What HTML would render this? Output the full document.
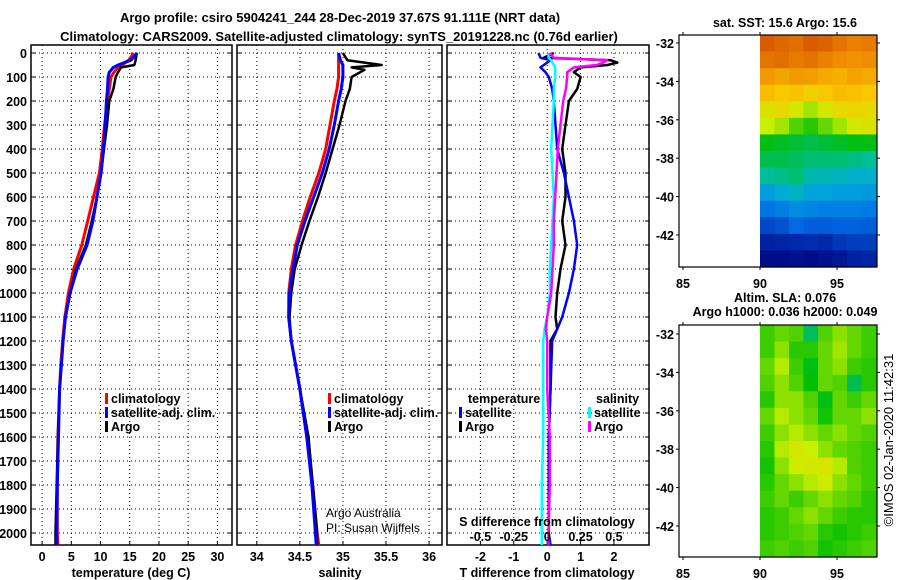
<!DOCTYPE html>
<html><head><meta charset="utf-8"><style>
body{margin:0;background:#fff;}
svg{display:block;font-family:"Liberation Sans",sans-serif;}
.b{font-weight:bold;font-size:13px;}
.t{font-weight:bold;font-size:12.5px;}
</style></head><body>
<svg id="c" width="900" height="580" viewBox="0 0 900 580">
<text x="340" y="22" text-anchor="middle" class="b" font-size="14">Argo profile: csiro 5904241_244 28-Dec-2019 37.67S 91.111E (NRT data)</text>
<text x="339" y="41" text-anchor="middle" class="b" font-size="14">Climatology: CARS2009. Satellite-adjusted climatology: synTS_20191228.nc (0.76d earlier)</text>
<g id="g"></g>
</svg>
<script>
// ---- data ----
const depthTicks=[0,100,200,300,400,500,600,700,800,900,1000,1100,1200,1300,1400,1500,1600,1700,1800,1900,2000];
const tempTicks=[0,5,10,15,20,25,30];
const salTicks=[34,34.5,35,35.5,36];
const salTickLabels=["34","34.5","35","35.5","36"];
const tdTicks=[-2,-1,0,1,2];
const sdTicks=[-0.5,-0.25,0,0.25,0.5];
const sdTickLabels=["-0.5","-0.25","0","0.25","0.5"];

const tDepth=[0,30,50,60,80,100,150,200,300,400,500,600,700,800,900,1000,1100,1200,1300,1400,1600,1800,2000,2050];
const tArgo=[16.2,16.0,15.8,13.5,13.0,12.6,12.2,11.5,11.1,10.6,10.1,9.4,8.5,7.5,5.8,4.8,4.0,3.6,3.3,3.0,2.7,2.5,2.3,2.3];
const tClim=[15.7,14.8,13.7,13.0,12.3,11.8,11.5,11.2,10.7,10.3,9.8,8.8,7.8,6.8,5.4,4.5,3.9,3.5,3.2,3.0,2.7,2.6,2.6,2.7];
const tSat=[16.3,15.2,13.0,12.2,11.5,11.3,11.2,11.0,10.8,10.5,10.1,9.4,8.7,7.7,6.0,4.8,4.0,3.6,3.3,3.0,2.8,2.6,2.5,2.5];

const sDepth=[0,30,50,60,70,100,150,200,300,400,500,600,700,800,900,1000,1100,1200,1300,1400,1600,1800,2000,2050];
const sArgo=[35.0,35.05,35.45,35.1,35.25,35.1,35.08,35.03,34.96,34.88,34.8,34.71,34.61,34.52,34.44,34.4,34.38,34.4,34.45,34.5,34.6,34.65,34.7,34.7];
const sClim=[34.95,34.95,34.95,34.95,34.95,34.95,34.93,34.9,34.85,34.8,34.72,34.62,34.53,34.45,34.4,34.37,34.37,34.4,34.45,34.5,34.58,34.65,34.7,34.72];
const sSat=[34.95,34.97,35.0,35.0,35.0,35.0,34.98,34.95,34.9,34.84,34.76,34.66,34.56,34.47,34.42,34.38,34.37,34.4,34.45,34.5,34.58,34.64,34.68,34.69];

const dDepth=[0,20,30,40,50,60,80,100,150,200,300,400,500,600,700,800,900,1000,1100,1150,1200,1400,1600,1800,2000,2050];
const dTArgo=[0.2,-0.1,1.9,2.1,1.8,1.0,0.8,1.0,0.9,0.65,0.55,0.45,0.55,0.55,0.45,0.55,0.4,0.3,0.25,0.3,0.1,0.1,0.05,0.05,0.05,0.05];
const dTSat=[-0.26,-0.2,0.1,0.0,-0.1,-0.2,-0.05,0.05,0.15,0.2,0.25,0.3,0.5,0.65,0.8,0.9,0.8,0.65,0.45,0.3,0.15,0.1,0.05,0.05,0.05,0.1];
const dSArgo=[0.02,0.05,0.45,0.42,0.37,0.2,0.15,0.15,0.14,0.12,0.1,0.08,0.07,0.06,0.05,0.05,0.04,0.03,0.0,-0.01,0.0,0.0,0.02,0.02,0.01,0.01];
const dSSat=[0.01,0.01,0.03,0.04,0.05,0.06,0.06,0.06,0.05,0.05,0.04,0.03,0.04,0.05,0.04,0.03,0.02,0.02,0.0,-0.02,-0.03,-0.03,-0.03,-0.04,-0.04,-0.04];

const latTicks=[-32,-34,-36,-38,-40,-42];
const lonTicks=[85,90,95];
const sstGrid=[
[0.88,0.86,0.85,0.88,0.87,0.84,0.82,0.83],
[0.84,0.85,0.83,0.84,0.82,0.80,0.79,0.80],
[0.78,0.76,0.78,0.77,0.75,0.74,0.76,0.75],
[0.72,0.70,0.71,0.68,0.70,0.72,0.71,0.70],
[0.64,0.66,0.62,0.58,0.62,0.66,0.67,0.66],
[0.60,0.58,0.54,0.52,0.55,0.58,0.62,0.64],
[0.49,0.48,0.47,0.46,0.47,0.48,0.49,0.49],
[0.46,0.46,0.45,0.44,0.44,0.44,0.43,0.42],
[0.42,0.43,0.44,0.40,0.39,0.38,0.37,0.37],
[0.33,0.36,0.38,0.34,0.34,0.33,0.33,0.32],
[0.26,0.28,0.30,0.29,0.28,0.28,0.28,0.27],
[0.18,0.20,0.24,0.22,0.22,0.23,0.23,0.22],
[0.10,0.11,0.12,0.13,0.12,0.15,0.16,0.16],
[0.04,0.04,0.05,0.04,0.05,0.07,0.10,0.11]];
const slaGrid=[
[0.53,0.55,0.54,0.45,0.54,0.57,0.55,0.53],
[0.53,0.57,0.52,0.52,0.55,0.58,0.55,0.53],
[0.55,0.59,0.53,0.49,0.55,0.57,0.53,0.52],
[0.54,0.57,0.54,0.50,0.55,0.54,0.46,0.52],
[0.52,0.57,0.57,0.54,0.49,0.55,0.53,0.55],
[0.55,0.59,0.57,0.55,0.51,0.55,0.55,0.57],
[0.53,0.57,0.59,0.57,0.55,0.57,0.55,0.54],
[0.52,0.59,0.62,0.60,0.57,0.55,0.54,0.53],
[0.51,0.57,0.61,0.62,0.63,0.59,0.54,0.53],
[0.52,0.55,0.57,0.59,0.61,0.57,0.55,0.53],
[0.53,0.55,0.53,0.55,0.57,0.55,0.54,0.52],
[0.52,0.53,0.55,0.57,0.55,0.53,0.52,0.52],
[0.52,0.53,0.54,0.55,0.52,0.51,0.52,0.53],
[0.53,0.54,0.53,0.54,0.51,0.52,0.53,0.54]];

// ---- drawing ----
const NS='http://www.w3.org/2000/svg';
const G=document.getElementById('g');
function el(t,a,p){const e=document.createElementNS(NS,t);for(const k in a)e.setAttribute(k,a[k]);(p||G).appendChild(e);return e;}
const Y0=53,YS=0.24,YB=545;
const yD=d=>Y0+d*YS;
const panels=[
 {x0:31,x1:232,lo:-1.9,hi:32.5,name:'temperature-panel'},
 {x0:237,x1:442,lo:33.77,hi:36.15,name:'salinity-panel'},
 {x0:447,x1:649,lo:-3.0,hi:3.05,name:'difference-panel'}];
const sx=(p,v)=>p.x0+(v-p.lo)/(p.hi-p.lo)*(p.x1-p.x0);

function frame(p,xt,xl,yl){
 const g=el('g',{});
 
 
 for(const d of depthTicks){
  el('line',{x1:p.x0,x2:p.x1,y1:yD(d),y2:yD(d),stroke:'#000','stroke-dasharray':'1,3','stroke-width':1},g);
  el('line',{x1:p.x0,x2:p.x0+4,y1:yD(d),y2:yD(d),stroke:'#000'},g);
  el('line',{x1:p.x1-4,x2:p.x1,y1:yD(d),y2:yD(d),stroke:'#000'},g);
  if(yl){const t=el('text',{x:27,y:yD(d)+5,'text-anchor':'end',class:'t'},g);t.textContent=d;
   
   }
 }
 xt.forEach((v,i)=>{const x=sx(p,v);
  el('line',{x1:x,x2:x,y1:Y0-8,y2:YB,stroke:'#000','stroke-dasharray':'1,3'},g);
  el('line',{x1:x,x2:x,y1:YB-4,y2:YB,stroke:'#000'},g);
  if(xl){const t=el('text',{x:x,y:561,'text-anchor':'middle',class:'t'},g);t.textContent=xl[i];
   
   }
 });
 el('rect',{x:p.x0,y:Y0-8,width:p.x1-p.x0,height:YB-Y0+8,fill:'none',stroke:'#000','stroke-width':1.5},g);
 return g;
}
function line(p,ds,vs,col,w,nm,k){
 k=k||1;
 const pts=ds.map((d,i)=>sx(p,vs[i]*k).toFixed(1)+','+yD(d).toFixed(1)).join(' ');
 const e=el('polyline',{points:pts,fill:'none',stroke:col,'stroke-width':w,'stroke-linejoin':'round'});
 
 
}
function txt(x,y,s,nm,o){const t=el('text',Object.assign({x:x,y:y,class:'t'},o||{}));t.textContent=s;
 
 return t;}
function leg(x,y,col,s,nm){const r=el('rect',{x:x,y:y-10,width:3,height:11,fill:col});
 
 
 txt(x+6,y,s,nm);}

frame(panels[0],tempTicks,tempTicks.map(String),true);
frame(panels[1],salTicks,salTickLabels,false);
frame(panels[2],tdTicks,tdTicks.map(String),false);

line(panels[0],tDepth,tClim,'#f00',3,'temp-climatology-line');
line(panels[0],tDepth,tArgo,'#000',2.5,'temp-argo-line');
line(panels[0],tDepth,tSat,'#00f',3,'temp-satellite-line');
line(panels[1],sDepth,sClim,'#f00',3,'sal-climatology-line');
line(panels[1],sDepth,sArgo,'#000',2.5,'sal-argo-line');
line(panels[1],sDepth,sSat,'#00f',3,'sal-satellite-line');
line(panels[2],dDepth,dTArgo,'#000',2.5,'tdiff-argo-line');
line(panels[2],dDepth,dTSat,'#00f',2.5,'tdiff-satellite-line');
line(panels[2],dDepth,dSSat,'#0ff',2.5,'sdiff-satellite-line',4);
line(panels[2],dDepth,dSArgo,'#f0f',2.5,'sdiff-argo-line',4);

txt(547,526,'S difference from climatology','s-diff-axis-title',{'text-anchor':'middle'});
sdTicks.forEach((v,i)=>txt(sx(panels[2],v*4),541,sdTickLabels[i],'s-tick-label',{'text-anchor':'middle'}));

txt(131,577,'temperature (deg C)','temp-axis-title',{'text-anchor':'middle'});
txt(340,577,'salinity','sal-axis-title',{'text-anchor':'middle'});
txt(547,577,'T difference from climatology','tdiff-axis-title',{'text-anchor':'middle'});

leg(105,403,'#f00','climatology','legend-temp-climatology');
leg(105,417,'#00f','satellite-adj. clim.','legend-temp-satellite');
leg(105,431,'#000','Argo','legend-temp-argo');
leg(328,403,'#f00','climatology','legend-sal-climatology');
leg(328,417,'#00f','satellite-adj. clim.','legend-sal-satellite');
leg(328,431,'#000','Argo','legend-sal-argo');
txt(468,403,'temperature','legend-temp-heading');
leg(459,417,'#00f','satellite','legend-tdiff-satellite');
leg(459,431,'#000','Argo','legend-tdiff-argo');
txt(596,403,'salinity','legend-sal-heading');
leg(588,417,'#0ff','satellite','legend-sdiff-satellite');
leg(588,431,'#f0f','Argo','legend-sdiff-argo');
txt(326,517,'Argo Australia','credit-line-1',{style:'font-weight:normal;font-size:12px'});
txt(326,532,'PI: Susan Wijffels','credit-line-2',{style:'font-weight:normal;font-size:12px'});

// ---- maps ----
const cmStops=[[0,0,0,120],[0.12,0,40,170],[0.25,0,110,230],[0.35,0,170,220],[0.42,0,190,150],[0.5,0,190,0],[0.6,200,240,0],[0.7,250,200,0],[0.8,240,140,0],[0.9,210,80,0],[1,170,40,0]];
function cmap(v){v=Math.max(0,Math.min(1,v));
 for(let i=1;i<cmStops.length;i++){const a=cmStops[i-1],b=cmStops[i];
  if(v<=b[0]){const f=(v-a[0])/(b[0]-a[0]);
   return `rgb(${Math.round(a[1]+f*(b[1]-a[1]))},${Math.round(a[2]+f*(b[2]-a[2]))},${Math.round(a[3]+f*(b[3]-a[3]))})`;}}
 return 'rgb(170,40,0)';}
function map(top,lat32y,grid,nm){
 const mx=lon=>683+(lon-85)*15.4;
 const my=lat=>lat32y+(-32-lat)*19.2;
 const X0=679,X1=877,Y1=top,Y2=top+232;
 const g=el('g',{});
 
 
 const rows=grid.length,cols=grid[0].length;
 const ix0=760,ix1=876,cw=(ix1-ix0)/cols,rh=(Y2-Y1)/rows;
 for(let r=0;r<rows;r++)for(let c=0;c<cols;c++){
  const e=el('rect',{x:ix0+c*cw,y:Y1+r*rh,width:cw+0.6,height:rh+0.6,fill:cmap(grid[r][c])},g);
  
  
 }
 el('rect',{x:X0,y:Y1,width:X1-X0,height:Y2-Y1,fill:'none',stroke:'#000','stroke-width':1.2},g);
 for(const la of latTicks){const y=my(la);
  el('line',{x1:X0-3,x2:X0,y1:y,y2:y,stroke:'#000'},g);
  el('line',{x1:X1,x2:X1+3,y1:y,y2:y,stroke:'#000'},g);
  txt(674,y+5,String(la),'lat-tick-label',{'text-anchor':'end'});}
 for(const lo of lonTicks){const x=mx(lo);
  el('line',{x1:x,x2:x,y1:Y1-3,y2:Y1,stroke:'#000'},g);
  el('line',{x1:x,x2:x,y1:Y2,y2:Y2+3,stroke:'#000'},g);
  txt(x,Y2+21,String(lo),'lon-tick-label',{'text-anchor':'middle'});}
}
map(35,43,sstGrid,'sst-map');
map(325,334,slaGrid,'sla-map');
txt(785,27,'sat. SST: 15.6 Argo: 15.6','sst-map-title',{'text-anchor':'middle'});
txt(785,302,'Altim. SLA: 0.076','sla-map-title',{'text-anchor':'middle'});
txt(785,316,'Argo h1000: 0.036 h2000: 0.049','sla-map-subtitle',{'text-anchor':'middle'});
txt(0,0,'©IMOS 02-Jan-2020 11:42:31','imos-timestamp',{'text-anchor':'middle',transform:'translate(893,440) rotate(-90)',style:'font-weight:normal;font-size:13px'});
</script>
</body></html>
